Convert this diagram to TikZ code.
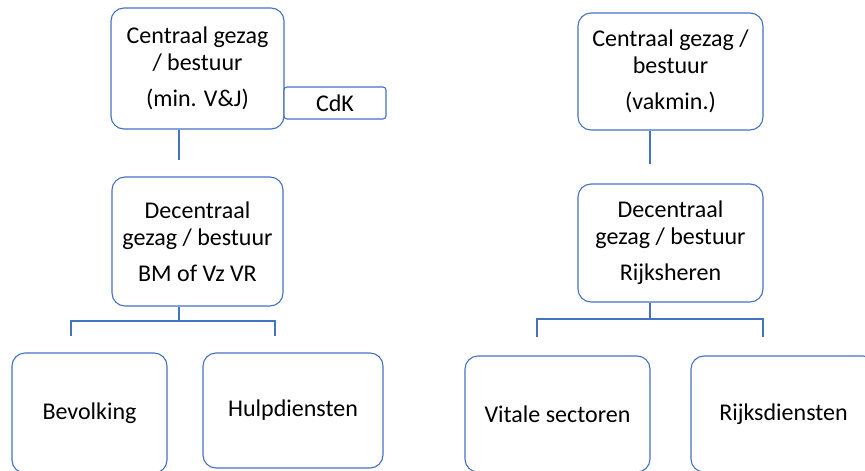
\documentclass[tikz,border=0pt]{standalone}
\usepackage{fontspec}
\setmainfont{Carlito}
\usepackage{tikz}
\usetikzlibrary{positioning,calc}
\definecolor{boxblue}{HTML}{4472C4}

\begin{document}
\begin{tikzpicture}[x=1pt,y=-1pt]
\tikzset{every node/.style={font=\fontsize{24}{27}\selectfont,align=center,inner sep=0pt}}
\tikzset{orgbox/.style={draw=boxblue,line width=1.1pt,rounded corners=13pt,fill=white}}
\tikzset{smallbox/.style={draw=boxblue,line width=1.1pt,rounded corners=3pt,fill=white}}
\tikzset{link/.style={draw=boxblue,line width=1.1pt}}
\clip (0,0) rectangle (865,471);
\fill[white] (0,0) rectangle (865,471);
% left tree
\node[orgbox,minimum width=173pt,minimum height=121pt] (cgL) at (197.5,68.5)
  {Centraal gezag\\/ bestuur\\[9pt](min. V\&J)};
\node[smallbox,minimum width=102pt,minimum height=32pt] (cdk) at (335,103) {CdK};
\node[orgbox,minimum width=171pt,minimum height=129pt] (dgL) at (197.5,241.5)
  {Decentraal\\gezag / bestuur\\[9pt]BM of Vz VR};
\node[orgbox,minimum width=155pt,minimum height=120pt] (bev) at (89.5,413) {Bevolking};
\node[orgbox,minimum width=180pt,minimum height=115pt] (hulp) at (293,410.5) {Hulpdiensten};
\coordinate (cgLend) at (179,160);
\coordinate (dgLjoin) at (179,321);
\coordinate (bevTop) at (71,336);
\coordinate (hulpTop) at (275,336);
\draw[link] (cgL.south -| cgLend) -- (cgLend);
\draw[link] (dgL.south -| dgLjoin) -- (dgLjoin) -| (bevTop);
\draw[link] (dgLjoin) -| (hulpTop);
% right tree
\node[orgbox,minimum width=185pt,minimum height=117pt] (cgR) at (670.5,71.5)
  {Centraal gezag /\\bestuur\\[9pt](vakmin.)};
\node[orgbox,minimum width=185pt,minimum height=118pt] (dgR) at (670.5,243)
  {Decentraal\\gezag / bestuur\\[9pt]Rijksheren};
\node[orgbox,minimum width=185pt,minimum height=116pt] (vit) at (557.5,414) {Vitale sectoren};
\node[orgbox,minimum width=185pt,minimum height=116pt] (rijk) at (783.5,414) {Rijksdiensten};
\coordinate (cgRend) at (650,164);
\coordinate (dgRjoin) at (650,319);
\coordinate (vitTop) at (537,337);
\coordinate (rijkTop) at (763,337);
\draw[link] (cgR.south -| cgRend) -- (cgRend);
\draw[link] (dgR.south -| dgRjoin) -- (dgRjoin) -| (vitTop);
\draw[link] (dgRjoin) -| (rijkTop);
\end{tikzpicture}
\end{document}
